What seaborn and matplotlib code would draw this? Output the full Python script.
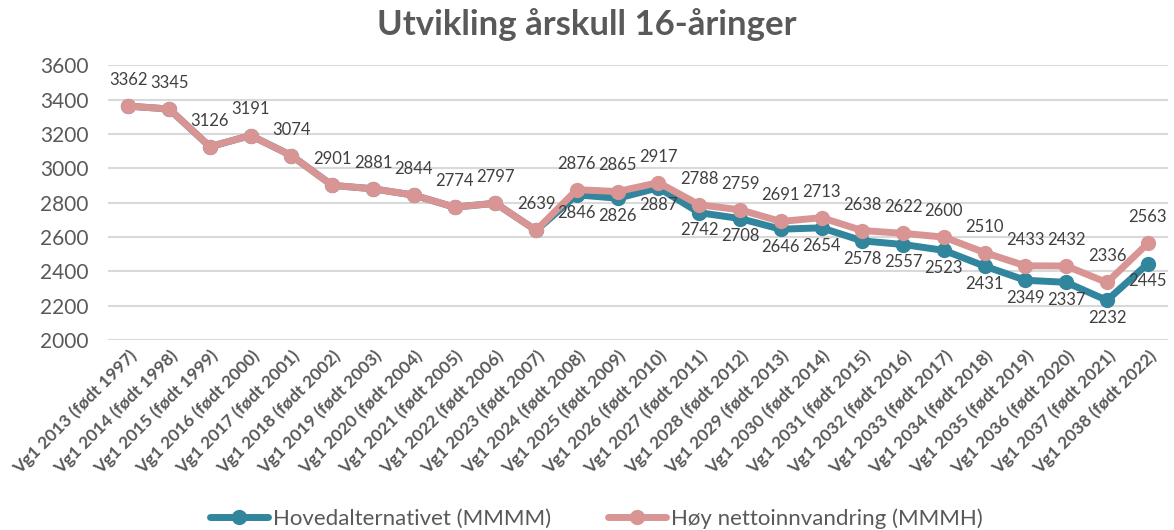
import pandas as pd
import matplotlib.pyplot as plt
import seaborn as sns

# Data
years = list(range(2013, 2039))
categories = [f"Vg1 {y} (født {y - 16})" for y in years]
hoved = [3362, 3345, 3126, 3191, 3074, 2901, 2881, 2844, 2774, 2797, 2639,
         2846, 2826, 2887, 2742, 2708, 2646, 2654, 2578, 2557, 2523, 2431,
         2349, 2337, 2232, 2445]
hoy = [3362, 3345, 3126, 3191, 3074, 2901, 2881, 2844, 2774, 2797, 2639,
       2876, 2865, 2917, 2788, 2759, 2691, 2713, 2638, 2622, 2600, 2510,
       2433, 2432, 2336, 2563]
series_names = ["Hovedalternativet (MMMM)", "Høy nettoinnvandring (MMMH)"]
colors = ["#31859C", "#D99594"]

df = pd.DataFrame({
    "pos": list(range(len(categories))) * 2,
    "value": hoved + hoy,
    "serie": [series_names[0]] * len(hoved) + [series_names[1]] * len(hoy),
})

sns.set_style("white")
plt.rcParams["font.family"] = ["Lato", "DejaVu Sans"]

fig = plt.figure(figsize=(11.74, 5.30), dpi=100)
ax = fig.add_axes([0.092, 0.358, 0.903, 0.519])

sns.lineplot(data=df, x="pos", y="value", hue="serie", hue_order=series_names,
             palette=colors, marker="o", markersize=11, markeredgewidth=0,
             linewidth=5, ax=ax, legend=True)

# data labels
for i, (a, b) in enumerate(zip(hoved, hoy)):
    ax.annotate(str(b), (i, b), xytext=(0, 13), textcoords="offset points",
                ha="center", va="bottom", fontsize=12, color="#404040")
    if a != b:
        ax.annotate(str(a), (i, a), xytext=(0, -7), textcoords="offset points",
                    ha="center", va="top", fontsize=12, color="#404040")

ax.set_ylim(2000, 3600)
ax.set_yticks(range(2000, 3601, 200))
ax.set_xlim(-0.5, len(categories) - 0.5)
ax.set_xticks(range(len(categories)))
ax.set_xticklabels(categories, rotation=45, ha="right", rotation_mode="anchor",
                   fontsize=12.5, fontweight="bold", color="#595959")
ax.tick_params(axis="y", labelsize=15, labelcolor="#595959", length=0, pad=14)
ax.tick_params(axis="x", length=0, pad=5)
ax.grid(axis="y", color="#D9D9D9", linewidth=1.5)
ax.set_axisbelow(True)
for s in ax.spines.values():
    s.set_visible(False)
ax.set_xlabel("")
ax.set_ylabel("")

fig.suptitle("Utvikling årskull 16-åringer", fontsize=25, fontweight="bold",
             color="#595959", y=0.985)

handles, labels = ax.get_legend_handles_labels()
ax.get_legend().remove()
fig.legend(handles, labels, loc="lower center", bbox_to_anchor=(0.508, -0.035),
           ncol=2, frameon=False, fontsize=16, handlelength=2.6,
           columnspacing=2.6, labelcolor="#595959", handletextpad=0.2)

fig.savefig("out.png", dpi=100)
